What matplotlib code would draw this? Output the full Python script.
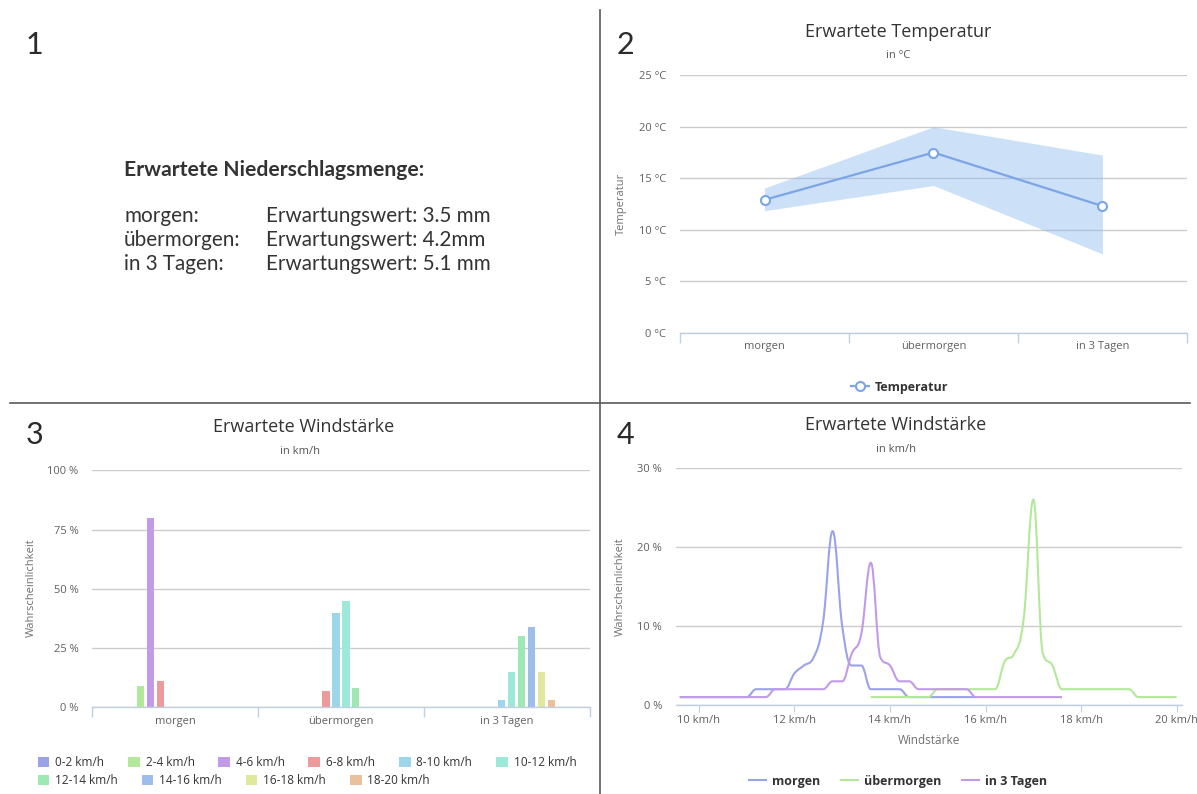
import matplotlib
matplotlib.use('Agg')
from matplotlib import pyplot as plt
from matplotlib.path import Path
from matplotlib.patches import PathPatch, Patch
from matplotlib.lines import Line2D
import numpy as np

plt.rcParams['font.family'] = ['Open Sans', 'DejaVu Sans']

W, H = 1197, 794

# Niederschlag
rain_days = ["morgen:", "übermorgen:", "in 3 Tagen:"]
rain_values = ["Erwartungswert: 3.5 mm", "Erwartungswert: 4.2mm", "Erwartungswert: 5.1 mm"]

# Temperatur
days = ["morgen", "übermorgen", "in 3 Tagen"]
temp_mean = [12.9, 17.5, 12.3]
temp_low = [11.85, 14.3, 7.65]
temp_high = [14.05, 20.0, 17.25]

# Windstärke nach Klassen (Wahrscheinlichkeit in %)
wind_classes = ["0-2 km/h", "2-4 km/h", "4-6 km/h", "6-8 km/h", "8-10 km/h",
                "10-12 km/h", "12-14 km/h", "14-16 km/h", "16-18 km/h", "18-20 km/h"]
wind_colors = ['#9aa3e8', '#b3e89a', '#c29be8', '#eb9b9b', '#9dd5ea',
               '#9de8d9', '#9de8b3', '#9dbeeb', '#dfe89d', '#ebc19d']
wind_prob = [
    [None, None, None],
    [9, None, None],
    [80, None, None],
    [11, 7, None],
    [None, 40, 3],
    [None, 45, 15],
    [None, 8, 30],
    [None, None, 34],
    [None, None, 15],
    [None, None, 3],
]

# Windstärke als Verteilung
morgen_x = [9.6, 9.8, 10.0, 10.2, 10.4, 10.6, 10.8, 11.0, 11.2, 11.4, 11.6, 11.8,
            12.0, 12.2, 12.4, 12.6, 12.8, 13.0, 13.2, 13.4, 13.6, 13.8, 14.0, 14.2,
            14.4, 14.6, 14.8, 15.0, 15.2, 15.4, 15.6, 15.8]
morgen_p = [1, 1, 1, 1, 1, 1, 1, 1, 2, 2, 2, 2,
            4, 5, 6, 10.5, 22, 10, 5, 5, 2, 2, 2, 2,
            1, 1, 1, 1, 1, 1, 1, 1]
uebermorgen_x = [13.6, 13.8, 14.0, 14.2, 14.4, 14.6, 14.8, 15.0, 15.2, 15.4, 15.6,
                 15.8, 16.0, 16.2, 16.4, 16.6, 16.8, 17.0, 17.2, 17.4, 17.6, 17.8,
                 18.0, 18.2, 18.4, 18.6, 18.8, 19.0, 19.2, 19.4, 19.6, 19.8, 20.0]
uebermorgen_p = [1, 1, 1, 1, 1, 1, 1, 2, 2, 2, 2,
                 2, 2, 2, 5.5, 6.5, 11, 26, 6.5, 5, 2, 2,
                 2, 2, 2, 2, 2, 2, 1, 1, 1, 1, 1]
tag3_x = [9.6, 9.8, 10.0, 10.2, 10.4, 10.6, 10.8, 11.0, 11.2, 11.4, 11.6, 11.8,
          12.0, 12.2, 12.4, 12.6, 12.8, 13.0, 13.2, 13.4, 13.6, 13.8, 14.0, 14.2,
          14.4, 14.6, 14.8, 15.0, 15.2, 15.4, 15.6, 15.8, 16.0, 16.2, 16.4, 16.6,
          16.8, 17.0, 17.2, 17.4, 17.6]
tag3_p = [1, 1, 1, 1, 1, 1, 1, 1, 1, 1, 2, 2,
          2, 2, 2, 2, 3, 3, 6.5, 9, 18, 6, 5, 3,
          3, 2, 2, 2, 2, 2, 2, 1, 1, 1, 1, 1,
          1, 1, 1, 1, 1]

TITLE = '#333333'
LABEL = '#606060'
GRID = '#cccccc'
AXIS = '#c0d0e0'
TEXT_FONT = ['Lato', 'DejaVu Sans']


def axes_px(fig, left, top, right, bottom):
    return fig.add_axes([left / W, 1 - bottom / H, (right - left) / W, (bottom - top) / H])


def ftext(fig, x, y, s, **kw):
    return fig.text(x / W, 1 - y / H, s, **kw)


def style(ax):
    for s in ['top', 'right', 'left']:
        ax.spines[s].set_visible(False)
    ax.spines['bottom'].set_color(AXIS)
    ax.spines['bottom'].set_linewidth(1.0)
    ax.grid(axis='y', color=GRID, lw=1.0)
    ax.set_axisbelow(True)
    ax.tick_params(axis='y', length=0, labelsize=8, labelcolor=LABEL, pad=10)
    ax.tick_params(axis='x', which='both', labelsize=8, labelcolor=LABEL)


def category_axis(ax, labels):
    ax.set_xlim(-0.5, len(labels) - 0.5)
    ax.set_xticks(np.arange(len(labels) + 1) - 0.5)
    ax.set_xticklabels([])
    ax.set_xticks(np.arange(len(labels)), minor=True)
    ax.set_xticklabels(labels, minor=True)
    ax.tick_params(axis='x', which='major', length=7, color=AXIS, width=1)
    ax.tick_params(axis='x', which='minor', length=0, pad=6)


def spline_path(xs, ys):
    # bezier control points in the style of a highcharts spline
    n = len(xs)
    lc = [(xs[i], ys[i]) for i in range(n)]
    rc = [(xs[i], ys[i]) for i in range(n)]
    for i in range(1, n - 1):
        x, y = xs[i], ys[i]
        lx, ly = xs[i - 1], ys[i - 1]
        nx, ny = xs[i + 1], ys[i + 1]
        lcx, lcy = (1.5 * x + lx) / 2.5, (1.5 * y + ly) / 2.5
        rcx, rcy = (1.5 * x + nx) / 2.5, (1.5 * y + ny) / 2.5
        corr = (rcy - lcy) * (rcx - x) / (rcx - lcx) + y - rcy
        lcy += corr
        rcy += corr
        if lcy > ly and lcy > y:
            lcy = max(ly, y); rcy = 2 * y - lcy
        elif lcy < ly and lcy < y:
            lcy = min(ly, y); rcy = 2 * y - lcy
        if rcy > ny and rcy > y:
            rcy = max(ny, y); lcy = 2 * y - rcy
        elif rcy < ny and rcy < y:
            rcy = min(ny, y); lcy = 2 * y - rcy
        lc[i] = (lcx, lcy)
        rc[i] = (rcx, rcy)
    verts = [(xs[0], ys[0])]
    codes = [Path.MOVETO]
    for i in range(1, n):
        verts += [rc[i - 1], lc[i], (xs[i], ys[i])]
        codes += [Path.CURVE4] * 3
    return Path(verts, codes)


fig = plt.figure(figsize=(W / 100, H / 100), dpi=100)

# panel dividers
fig.add_artist(Line2D([600 / W, 600 / W], [1 - 10 / H, 0], transform=fig.transFigure,
                      color='#5a5a5a', lw=1.2))
fig.add_artist(Line2D([10 / W, 1190 / W], [1 - 403 / H, 1 - 403 / H], transform=fig.transFigure,
                      color='#5a5a5a', lw=1.2))

# panel numbers
for num, (x, y) in zip("1234", [(26, 54), (617, 54), (26, 444), (617, 444)]):
    ftext(fig, x, y, num, fontsize=22, color='#2b2b2b', family=TEXT_FONT,
          ha='left', va='baseline')

# 1: Niederschlag
ftext(fig, 124, 170, "Erwartete Niederschlagsmenge:", fontsize=15.2, fontweight='bold',
      color='#333333', family=TEXT_FONT, va='center', ha='left')
for i, (d, v) in enumerate(zip(rain_days, rain_values)):
    ftext(fig, 124, 216 + 24 * i, d, fontsize=14.9, color='#333333',
          family=TEXT_FONT, va='center', ha='left')
    ftext(fig, 266, 216 + 24 * i, v, fontsize=14.9, color='#333333',
          family=TEXT_FONT, va='center', ha='left')

# 2: Temperatur
ax2 = axes_px(fig, 680, 75.3, 1187, 332.7)
style(ax2)
category_axis(ax2, days)
ax2.set_ylim(0, 25)
ax2.set_yticks([0, 5, 10, 15, 20, 25])
ax2.set_yticklabels([f"{v} °C" for v in [0, 5, 10, 15, 20, 25]])
xi = np.arange(len(days))
ax2.fill_between(xi, temp_low, temp_high, color='#8fbbee', alpha=0.45, lw=0, zorder=2)
ax2.plot(xi, temp_mean, color='#7ca5e8', lw=1.6, marker='o', ms=6.5, mfc='white',
         mec='#7ca5e8', mew=1.5, zorder=3, label='Temperatur')
ax2.legend(loc='center', bbox_to_anchor=(900 / W, 1 - 387 / H), bbox_transform=fig.transFigure,
           frameon=False, prop={'weight': 'bold', 'size': 9}, labelcolor='#333333',
           handlelength=1.4, handletextpad=0.5, borderpad=0)
ftext(fig, 898, 32, "Erwartete Temperatur", fontsize=13, color=TITLE, ha='center', va='center')
ftext(fig, 898, 56, "in °C", fontsize=8, color='#555555', ha='center', va='center')
ftext(fig, 621, 204, "Temperatur", fontsize=8, color='#707070', rotation=90,
      ha='center', va='center')

# 3: Windstärke Balken
ax3 = axes_px(fig, 92.2, 470.3, 589.7, 707.3)
style(ax3)
category_axis(ax3, days)
ax3.set_ylim(0, 100)
ax3.set_yticks([0, 25, 50, 75, 100])
ax3.set_yticklabels([f"{v} %" for v in [0, 25, 50, 75, 100]])
slot = 0.6 / len(wind_classes)
handles = []
for j, (name, col, vals) in enumerate(zip(wind_classes, wind_colors, wind_prob)):
    heights = np.array([np.nan if v is None else v for v in vals], dtype=float)
    pos = xi - 0.3 + (j + 0.5) * slot
    ax3.bar(pos, heights, width=slot * 0.72, color=col, zorder=2)
    handles.append(Patch(facecolor=col, label=name))
leg_kw = dict(loc='upper left', bbox_transform=fig.transFigure, frameon=False, fontsize=8.5,
              labelcolor='#333333', handlelength=1.0, handleheight=1.0, handletextpad=0.5,
              columnspacing=2.0, borderpad=0, borderaxespad=0)
leg1 = ax3.legend(handles=handles[:6], ncol=6, bbox_to_anchor=(37.5 / W, 1 - 756 / H), **leg_kw)
ax3.add_artist(leg1)
ax3.legend(handles=handles[6:], ncol=4, bbox_to_anchor=(37.5 / W, 1 - 774 / H), **leg_kw)
ftext(fig, 304, 427, "Erwartete Windstärke", fontsize=13, color=TITLE, ha='center', va='center')
ftext(fig, 300, 451, "in km/h", fontsize=8, color='#555555', ha='center', va='center')
ftext(fig, 31, 588, "Wahrscheinlichkeit", fontsize=8, color='#707070', rotation=90,
      ha='center', va='center')

# 4: Windstärke Verteilung
ax4 = axes_px(fig, 675.9, 468, 1182.4, 705)
style(ax4)
ax4.set_xlim(9.52, 20.12)
ax4.set_ylim(0, 30)
ax4.set_yticks([0, 10, 20, 30])
ax4.set_yticklabels([f"{v} %" for v in [0, 10, 20, 30]])
ax4.set_xticks([10, 12, 14, 16, 18, 20])
ax4.set_xticklabels([f"{v} km/h" for v in [10, 12, 14, 16, 18, 20]])
ax4.tick_params(axis='x', length=5, color=AXIS, pad=2)
series = [("morgen", morgen_x, morgen_p, wind_colors[0]),
          ("übermorgen", uebermorgen_x, uebermorgen_p, wind_colors[1]),
          ("in 3 Tagen", tag3_x, tag3_p, wind_colors[2])]
line_handles = []
for name, xs, ps, col in series:
    ax4.add_patch(PathPatch(spline_path(xs, ps), fill=False, edgecolor=col, lw=1.5, zorder=3))
    line_handles.append(Line2D([], [], color=col, lw=1.5, label=name))
ax4.legend(handles=line_handles, ncol=3, loc='center', bbox_to_anchor=(898 / W, 1 - 781 / H),
           bbox_transform=fig.transFigure, frameon=False, prop={'weight': 'bold', 'size': 9},
           labelcolor='#333333', handlelength=1.4, handletextpad=0.5, columnspacing=1.6,
           borderpad=0)
ftext(fig, 896, 425, "Erwartete Windstärke", fontsize=13, color=TITLE, ha='center', va='center')
ftext(fig, 896, 449, "in km/h", fontsize=8, color='#555555', ha='center', va='center')
ftext(fig, 620, 587, "Wahrscheinlichkeit", fontsize=8, color='#707070', rotation=90,
      ha='center', va='center')
ftext(fig, 929, 740, "Windstärke", fontsize=8.5, color='#707070', ha='center', va='center')

fig.savefig('out.png', dpi=100)
